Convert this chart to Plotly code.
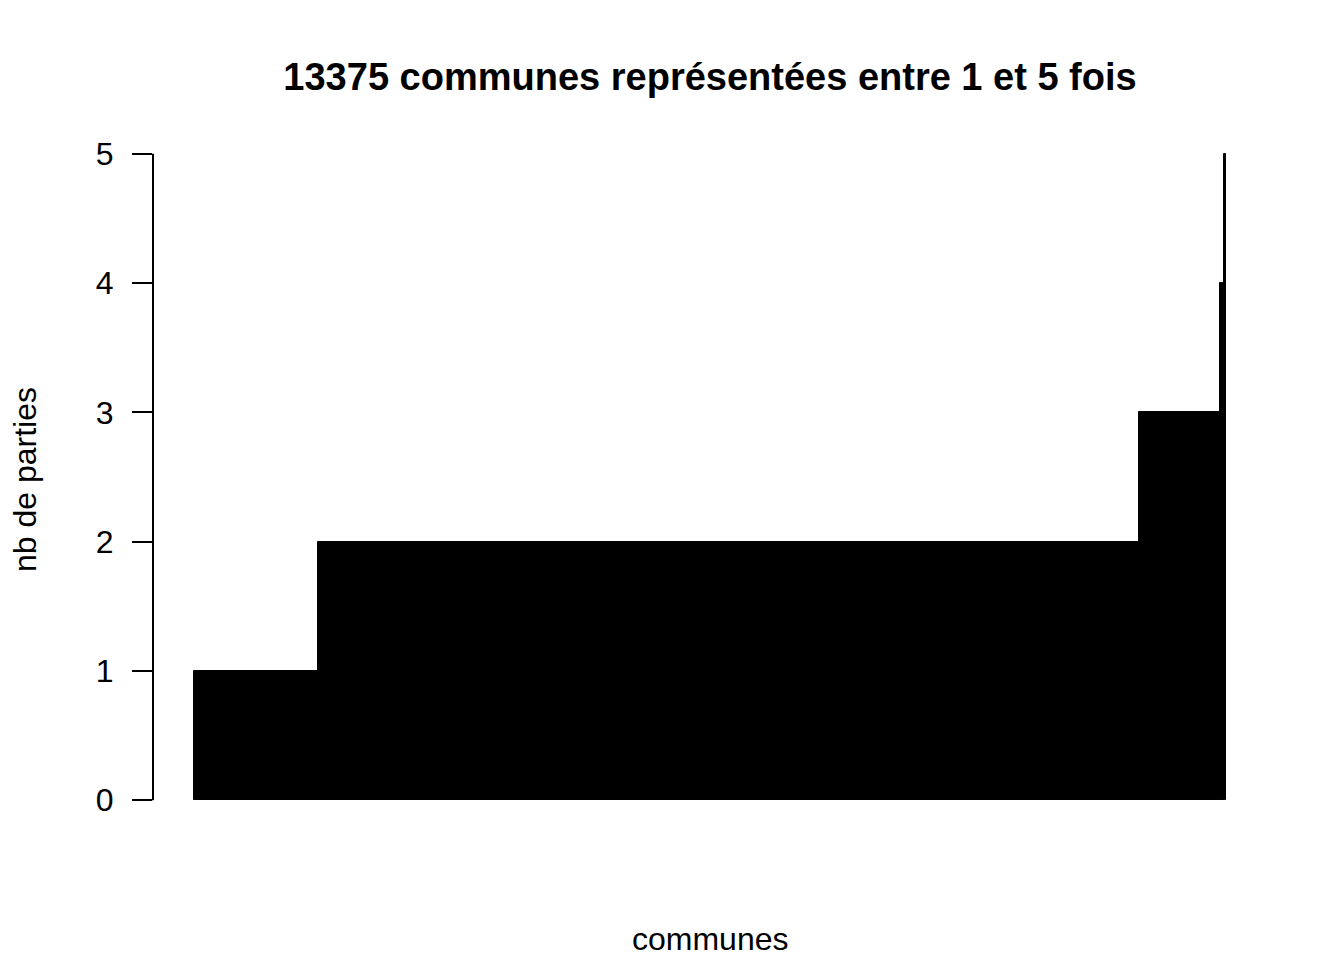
import numpy as np
import plotly.graph_objects as go

# Data: number of games (parties) per commune, sorted ascending
nb_parties = [1, 2, 3, 4, 5]
nb_communes = [1610, 10642, 1049, 52, 22]   # communes at each level (total 13375)
y_ticks = [0, 1, 2, 3, 4, 5]
title = "13375 communes représentées entre 1 et 5 fois"

counts = np.array(nb_communes)
ends = np.cumsum(counts)
centers = ends - counts / 2.0
total = int(ends[-1])
pad = 0.04 * total

FONT = "Liberation Sans, Arial, Helvetica, sans-serif"

fig = go.Figure()
fig.add_trace(go.Bar(
    x=centers, y=nb_parties, width=counts,
    marker=dict(color="black", line=dict(color="black", width=1)),
    showlegend=False, hoverinfo="skip",
))

W, H = 1344, 960
ml, mr, mt, mb = 153, 77, 128, 134
pw, ph = W - ml - mr, H - mt - mb

fig.update_layout(
    width=W, height=H,
    margin=dict(l=ml, r=mr, t=mt, b=mb, autoexpand=False),
    paper_bgcolor="white", plot_bgcolor="white",
    font=dict(family=FONT, size=32, color="black"),
    bargap=0,
    title=dict(text=title, x=710 / W, xanchor="center", xref="container",
               y=1 - 77 / H, yanchor="middle", yref="container",
               font=dict(family=FONT, size=38, color="black", weight="bold")),
    xaxis=dict(range=[-pad, total + pad], showticklabels=False, ticks="",
               showline=False, showgrid=False, zeroline=False),
    yaxis=dict(range=[-0.2, 5.2], tickvals=y_ticks, ticktext=[str(v) for v in y_ticks],
               ticks="outside", ticklen=20, tickwidth=2, tickcolor="black",
               ticklabelstandoff=12,
               showline=False, showgrid=False, zeroline=False,
               tickfont=dict(family=FONT, size=32, color="black")),
)

# y axis line only spanning the tick range (as in base R)
fig.add_shape(type="line", xref="paper", yref="y", x0=0, x1=0, y0=y_ticks[0], y1=y_ticks[-1],
              line=dict(color="black", width=2))

# axis titles
fig.add_annotation(text="communes", xref="paper", yref="paper",
                   x=(710 - ml) / pw, y=-(939 - (H - mb)) / ph, xanchor="center", yanchor="middle",
                   showarrow=False, font=dict(family=FONT, size=32, color="black"))
fig.add_annotation(text="nb de parties", xref="paper", yref="paper",
                   x=(25 - ml) / pw, y=(H - mb - 480) / ph, xanchor="center", yanchor="middle",
                   textangle=-90, showarrow=False, font=dict(family=FONT, size=32, color="black"))

fig.write_html("out.html")
